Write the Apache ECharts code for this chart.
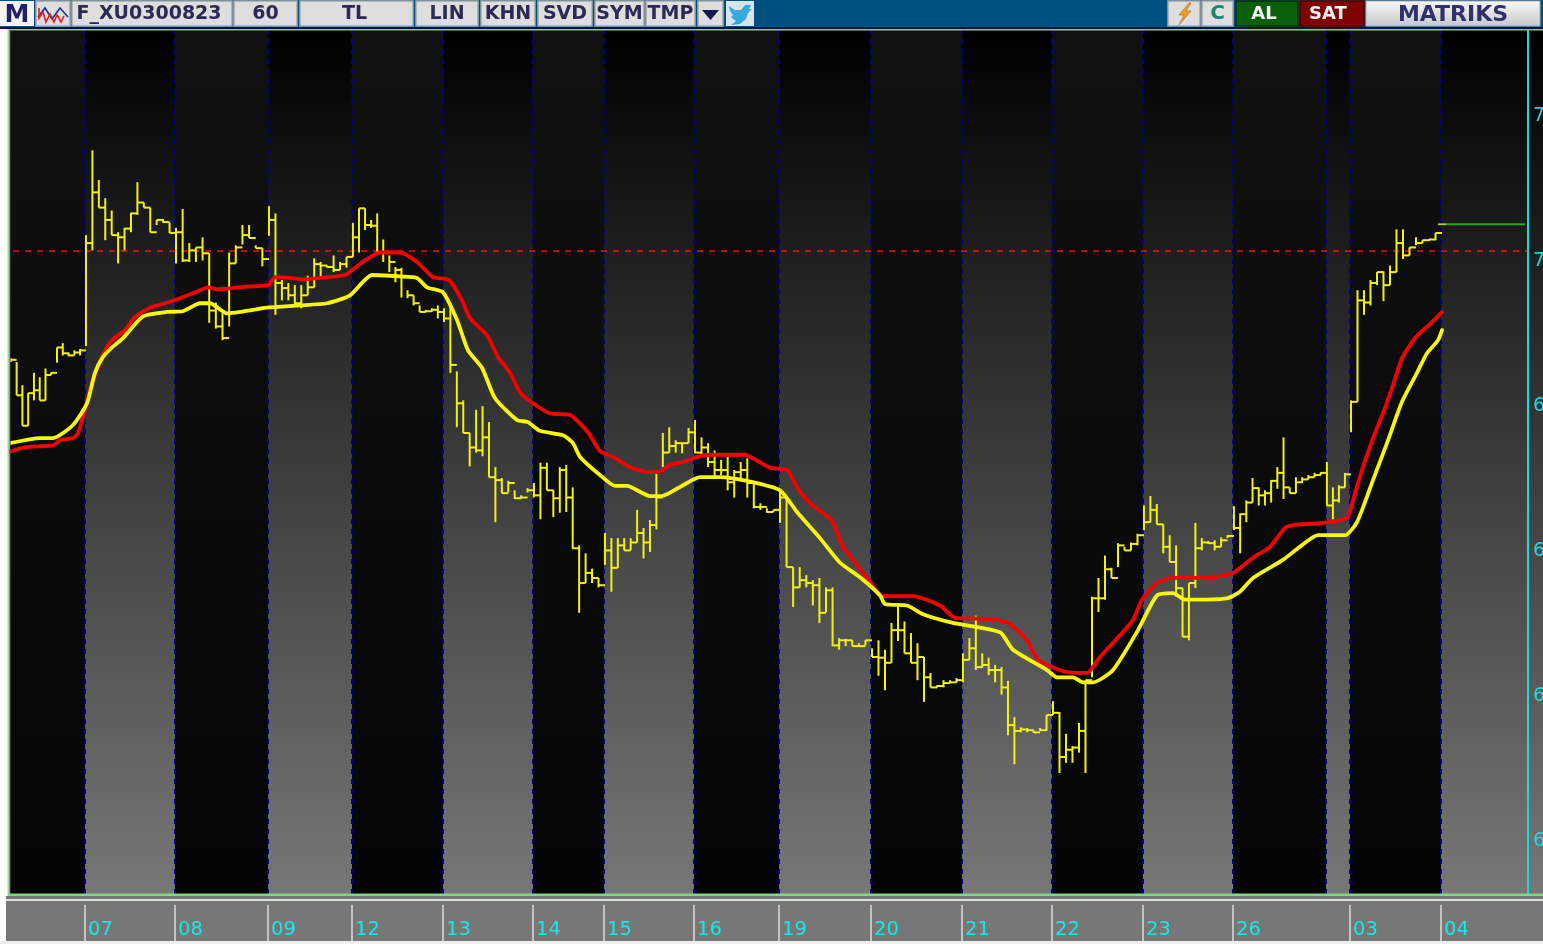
<!DOCTYPE html>
<html><head><meta charset="utf-8">
<style>html,body{margin:0;padding:0;background:#fff;overflow:hidden}#c{width:1543px;height:944px}</style>
<script src="https://cdn.jsdelivr.net/npm/echarts@6/dist/echarts.min.js"></script>
</head><body><div id="c"></div>
<script>
// Elapsed trading minutes at which each session starts (last entry = end of drawn bars, then end of the empty session)
const sessionStart = [0,750,1650,2580,3420,4330,5230,5940,6840,7690,8610,9520,10420,11330,12230,13160,13400,14310,15330];
const dayTickMinutes = [750,1650,2580,3420,4330,5230,5940,6840,7690,8610,9520,10420,11330,12230,13400,14310];
const dayTickLabels = ['07','08','09','12','13','14','15','16','19','20','21','22','23','26','03','04'];
const priceTicks = [7200,7000,6800,6600,6400,6200];
const priceTickLabels = ['7','7','6','6','6','6'];
const referencePrice = 7014;
const lastPrice = 7051;

// Hourly bars, one inner list per session
const high = [
[6866,6861,6829,6818,6846,6840,6852,6847,6881,6887,6874,6877,6879],
[7036,7153,7112,7087,7070,7040,7046,7067,7109,7081,7074,7057,7058,7053],
[7046,7072,7025,7019,7033,7011,6943,6929,7012,7022,7050,7050,7022,7018],
[7076,7066,6974,6970,6967,6967,6980,7004,6999,6994,7008,6999,7006],
[7053,7073,7073,7057,7066,7030,7008,6992,6991,6960,6953,6939,6933,6935,6939],
[6935,6942,6848,6808,6763,6795,6800,6778,6716,6701,6697,6684,6677,6687],
[6694,6722,6722,6684,6716,6719,6688,6608,6597,6576,6563],
[6625,6618,6618,6618,6618,6657,6632,6643,6708,6763,6771,6753,6749,6770],
[6781,6757,6749,6739,6726,6730,6712,6723,6728,6695,6666,6659,6657],
[6684,6674,6578,6578,6567,6560,6563,6550,6550,6480,6479,6477,6473,6477],
[6466,6477,6464,6501,6525,6503,6487,6473,6454,6432,6415,6422,6422,6425],
[6459,6480,6511,6459,6453,6443,6440,6421,6371,6357,6356,6353,6356,6374],
[6393,6378,6348,6331,6363,6422,6537,6563,6594,6577,6611,6606,6612,6624],
[6663,6676,6665,6637,6622,6608,6549,6556,6639,6618,6614,6615,6619,6622],
[6662,6652,6670,6701,6688,6684,6698,6716,6757,6688,6702,6702,6705,6708,6709],
[6723,6688,6691,6708],
[6808,6960,6960,6974,6985,6986,6994,7044,7044,7019,7033,7029,7030,7039]
];
const low = [
[6861,6815,6773,6773,6808,6808,6808,6843,6860,6870,6869,6870,6870],
[6883,7015,7074,7029,7036,6997,7015,7040,7064,7074,7040,7050,7053,7039],
[6997,6999,6999,6999,7001,6915,6907,6891,6910,6997,7023,7032,7018,6993],
[7035,6926,6946,6946,6939,6935,6953,6964,6978,6991,6985,6988,6991],
[7006,7012,7043,7046,7012,6999,6985,6971,6950,6949,6939,6930,6930,6930,6921],
[6916,6846,6771,6763,6717,6736,6731,6702,6640,6680,6681,6672,6673,6681],
[6674,6644,6684,6647,6653,6654,6603,6515,6556,6556,6550],
[6581,6544,6577,6601,6601,6612,6590,6599,6630,6716,6736,6736,6735,6749],
[6735,6730,6716,6701,6705,6684,6674,6701,6674,6659,6657,6653,6654],
[6639,6578,6523,6550,6550,6525,6501,6516,6469,6464,6469,6469,6469,6470],
[6454,6428,6408,6446,6476,6459,6446,6422,6392,6412,6412,6412,6418,6419],
[6419,6450,6436,6439,6429,6419,6402,6346,6306,6350,6350,6349,6352,6352],
[6374,6294,6308,6308,6322,6294,6426,6516,6533,6563,6578,6601,6601,6608],
[6629,6640,6637,6597,6585,6537,6482,6477,6549,6601,6610,6601,6606,6618],
[6629,6597,6640,6667,6663,6663,6667,6686,6672,6680,6680,6694,6699,6702,6705],
[6663,6644,6667,6688],
[6764,6806,6926,6939,6967,6945,6967,6985,7003,7008,7022,7025,7028,7029]
];
const close = [
[6864,6815,6773,6818,6822,6808,6843,6846,6881,6873,6870,6874,6877],
[7025,7095,7074,7057,7036,7033,7045,7066,7081,7074,7040,7057,7054,7039],
[7040,7001,7015,7019,7011,6932,6910,6894,6997,7019,7036,7032,7018,7003],
[7057,6970,6963,6953,6942,6953,6964,6996,6994,6992,6988,6996,7006],
[7033,7073,7050,7049,7012,7012,6999,6988,6978,6953,6942,6930,6931,6933,6930],
[6921,6857,6804,6763,6743,6739,6757,6702,6698,6680,6694,6673,6674,6684],
[6677,6715,6684,6673,6712,6674,6604,6556,6570,6563,6553],
[6601,6577,6608,6601,6612,6625,6612,6636,6674,6736,6745,6749,6749,6764],
[6736,6743,6723,6712,6712,6695,6709,6712,6694,6661,6661,6654,6657],
[6674,6578,6550,6560,6556,6553,6515,6546,6470,6477,6477,6469,6469,6477],
[6454,6453,6446,6491,6491,6459,6446,6454,6426,6412,6414,6418,6419,6422],
[6450,6466,6440,6443,6436,6436,6412,6360,6352,6354,6353,6350,6353,6374],
[6377,6316,6326,6329,6352,6422,6535,6535,6575,6563,6608,6601,6610,6622],
[6640,6657,6637,6606,6585,6549,6482,6556,6604,6612,6611,6606,6615,6621],
[6632,6651,6667,6687,6677,6680,6697,6708,6688,6680,6695,6699,6702,6705,6708],
[6663,6670,6688,6706],
[6806,6946,6943,6970,6985,6967,6985,7025,7008,7019,7025,7029,7030,7039]
];

// Moving averages: [elapsed minutes, price]
const redAverage = [[0,6737],[100,6742],[200,6744],[430,6746],[500,6753],[630,6756],[680,6763],[730,6785],[780,6813],[830,6836],[880,6854],[950,6877],[1020,6891],[1150,6905],[1250,6923],[1400,6936],[1550,6942],[1700,6949],[1850,6957],[1980,6964],[2080,6961],[2350,6965],[2580,6967],[2650,6978],[2780,6977],[2950,6975],[3100,6977],[3350,6981],[3450,6991],[3550,7001],[3700,7012],[3900,7012],[4070,6999],[4230,6978],[4390,6974],[4520,6946],[4600,6921],[4770,6898],[4880,6868],[5000,6846],[5100,6819],[5230,6804],[5400,6790],[5600,6788],[5780,6764],[5900,6738],[6030,6730],[6200,6716],[6370,6709],[6480,6709],[6600,6719],[6730,6723],[6870,6730],[7000,6733],[7350,6733],[7430,6728],[7600,6715],[7770,6712],[7870,6688],[8000,6666],[8220,6642],[8320,6608],[8430,6588],[8570,6563],[8730,6538],[9030,6538],[9300,6525],[9450,6508],[9700,6507],[9970,6502],[10170,6477],[10280,6450],[10570,6433],[10770,6432],[10900,6454],[11100,6484],[11230,6505],[11320,6533],[11470,6556],[11630,6563],[11970,6563],[12230,6570],[12430,6591],[12600,6606],[12750,6632],[12830,6636],[13130,6639],[13370,6646],[13430,6670],[13520,6712],[13650,6763],[13730,6790],[13830,6829],[13920,6866],[14050,6894],[14220,6916],[14320,6930]];
const yellowAverage = [[0,6749],[300,6756],[430,6756],[630,6774],[770,6804],[850,6846],[930,6868],[1020,6881],[1130,6894],[1330,6924],[1570,6930],[1730,6931],[1900,6942],[2000,6942],[2170,6928],[2300,6930],[2570,6936],[2900,6939],[3170,6942],[3400,6953],[3620,6981],[3900,6979],[4070,6977],[4170,6964],[4330,6957],[4470,6919],[4580,6877],[4720,6853],[4850,6811],[5070,6781],[5180,6778],[5300,6766],[5530,6760],[5630,6749],[5700,6730],[5900,6705],[6050,6690],[6170,6690],[6400,6676],[6520,6676],[6730,6691],[6900,6702],[7100,6702],[7370,6697],[7700,6684],[7870,6654],[8100,6618],[8300,6584],[8500,6564],[8700,6539],[8750,6527],[8970,6525],[9130,6513],[9430,6501],[9900,6488],[10030,6464],[10370,6436],[10470,6426],[10630,6426],[10730,6419],[10830,6419],[11030,6436],[11280,6491],[11470,6539],[11630,6542],[11750,6533],[12170,6535],[12300,6544],[12430,6563],[12730,6588],[12880,6604],[13080,6622],[13350,6622],[13470,6640],[13630,6698],[13770,6749],[13920,6806],[14070,6846],[14170,6873],[14280,6891],[14320,6905]];

// ---- build marks from the arrays ----
const yMin = 6127, yMax = 7319, xMax = 15180;
const barData = [];
high.forEach((list, s) => {
  const step = (sessionStart[s + 1] - sessionStart[s]) / list.length;
  list.forEach((h, j) => {
    const x = sessionStart[s] + (j + 0.15) * step;
    barData.push([x, h, low[s][j], close[s][j], x + step]);
  });
});
const bandData = sessionStart.slice(0, -1).map((v, i) => [v, sessionStart[i + 1], i % 2]);
const G = echarts.graphic;
const gradLight = new G.LinearGradient(0, 0, 0, 1, [{offset:0,color:'#000000'},{offset:1,color:'#777777'}]);
const gradDark = new G.LinearGradient(0, 0, 0, 1, [{offset:0,color:'#111111'},{offset:1,color:'#050505'}]);

// ---- window chrome ----
const NAVY = '#2a2a55';
function btn(x, w, label, o) {
  o = o || {};
  return [
    {type:'rect', shape:{x:x,y:1,width:w,height:25}, style:{fill:o.fill||'#dedede', stroke:o.stroke||'#a8a8a8', lineWidth:1.5}, z:100},
    label ? {type:'text', x:x+w/2+(o.dx||0), y:o.y||14, style:{text:label, fill:o.color||NAVY, font:'bold '+(o.size||19)+'px "DejaVu Sans"', align:'center', verticalAlign:'middle'}, z:101} : null
  ].filter(Boolean);
}
const chrome = [].concat(
  [{type:'rect', shape:{x:0,y:0,width:1543,height:27}, style:{fill:'#00507f'}, z:99},
   {type:'rect', shape:{x:0,y:27,width:1543,height:2}, style:{fill:'#101820'}, z:99},
   {type:'rect', shape:{x:0,y:1,width:34,height:25}, style:{fill:'#f4f4f4'}, z:100},
   {type:'text', x:17, y:15, style:{text:'M', fill:'#1f1f6a', font:'bold 25px "DejaVu Sans"', align:'center', verticalAlign:'middle'}, z:101}],
  btn(36,34,''),
  [{type:'polyline', shape:{points:[[38,17],[45,8],[52,19],[60,8],[68,17]]}, style:{stroke:'#20308a', fill:'none', lineWidth:1.6}, z:101},
   {type:'polyline', shape:{points:[[39,8],[39,18],[43,12],[46,22],[50,14],[54,22],[57,15],[61,22],[64,16]]}, style:{stroke:'#e02020', fill:'none', lineWidth:1.6}, z:101}],
  btn(72,160,'F_XU0300823',{dx:-3}), btn(234,63,'60'), btn(300,113,'TL',{dx:-2}), btn(416,62,'LIN'),
  btn(481,54,'KHN'), btn(538,54,'SVD'), btn(595,49,'SYM'), btn(646,49,'TMP'), btn(698,25,''),
  [{type:'polygon', shape:{points:[[702,10],[719,10],[710.5,20]]}, style:{fill:'#15154f'}, z:101},
   {type:'rect', shape:{x:726,y:1,width:28,height:25}, style:{fill:'#d8e4ea'}, z:100},
   {type:'polygon', shape:{points:[[729,6],[735,10],[741,10],[745,5],[751,5],[749,9],[752,9],[748,13],[746,19],[740,24],[731,25],[736,21],[731,17],[733,15],[730,11]]}, style:{fill:'#35a9e0'}, z:101}],
  btn(1168,32,''),
  [{type:'polygon', shape:{points:[[1189,3],[1179,15],[1184,15],[1179,25],[1191,11],[1186,11],[1191,3]]}, style:{fill:'#f0a020', stroke:'#a06a10', lineWidth:0.6}, z:101}],
  btn(1202,31,'C',{color:'#17886e',size:20}),
  btn(1236,62,'AL',{fill:'#0b5f0b',stroke:'#063006',color:'#f4f4f4',size:18,dx:-3}),
  btn(1300,64,'SAT',{fill:'#7d0303',stroke:'#500',color:'#f4f4f4',size:18,dx:-4}),
  [{type:'rect', shape:{x:1366,y:1,width:174,height:25}, style:{fill:new G.LinearGradient(0,0,0,1,[{offset:0,color:'#f8f8f8'},{offset:1,color:'#c8c8c8'}]), stroke:'#aaa', lineWidth:1}, z:100},
   {type:'text', x:1453, y:15, style:{text:'MATRIKS', fill:'#30306e', font:'bold 22px "DejaVu Sans"', align:'center', verticalAlign:'middle'}, z:101},
   // plot frame
   {type:'rect', shape:{x:8,y:28.5,width:1535,height:2}, style:{fill:'#6fdc6f'}, z:90},
   {type:'rect', shape:{x:7.5,y:28.5,width:2,height:867}, style:{fill:'#8fe08f'}, z:90},
   {type:'rect', shape:{x:9.5,y:30,width:1,height:864}, style:{fill:'#7a2a8a'}, z:90},
   {type:'rect', shape:{x:8,y:893.5,width:1535,height:2.5}, style:{fill:'#7bdc7b'}, z:90},
   // time-axis strip
   {type:'rect', shape:{x:6,y:896,width:1537,height:45}, style:{fill:'#777777'}, z:-1},
   {type:'rect', shape:{x:6,y:899,width:1537,height:2}, style:{fill:'#e0e0e0'}, z:-1},
   {type:'rect', shape:{x:0,y:941,width:1543,height:3}, style:{fill:'#eeeeee'}, z:-1}]
);

const chart = echarts.init(document.getElementById('c'), null, {renderer:'canvas'});
chart.setOption({
  animation:false,
  backgroundColor:'#ffffff',
  grid:{left:10, right:15, top:30, bottom:50, containLabel:false, outerBoundsMode:'none'},
  graphic:{elements:chrome},
  xAxis:{type:'value', min:0, max:xMax, offset:11, splitLine:{show:false}, z:20,
    axisLine:{show:false},
    axisTick:{show:true, length:36, customValues:dayTickMinutes, lineStyle:{color:'#dddddd', width:1.5}},
    axisLabel:{show:true, customValues:dayTickMinutes, margin:15, align:'left', padding:[0,0,0,3],
      color:'#18e8e8', fontFamily:'"DejaVu Sans"', fontSize:19.5,
      formatter:v => dayTickLabels[dayTickMinutes.indexOf(v)] || ''}},
  yAxis:{type:'value', position:'right', min:yMin, max:yMax, splitLine:{show:false}, z:20,
    axisLine:{show:true, onZero:false, lineStyle:{color:'#18dcdc', width:2}},
    axisTick:{show:false},
    axisLabel:{show:true, customValues:priceTicks, margin:5, color:'#18dcdc', fontFamily:'"DejaVu Sans"', fontSize:19,
      formatter:v => priceTickLabels[priceTicks.indexOf(v)] || ''}},
  series:[
    {type:'custom', name:'sessions', z:1, clip:false, silent:true, data:bandData,
     encode:{x:[0,1]},
     renderItem:(p, api) => {
       const a = api.coord([api.value(0), yMax]), b = api.coord([api.value(1), yMin]);
       return {type:'rect', shape:{x:a[0], y:a[1], width:b[0]-a[0], height:b[1]-a[1]},
               style:{fill: api.value(2) ? gradLight : gradDark}};
     },
     markLine:{silent:true, symbol:'none', label:{show:false}, z:2,
       lineStyle:{color:'#000090', type:[5,5], width:2},
       data:sessionStart.slice(1,-1).map(v => ({xAxis:v}))}},
    {type:'line', name:'reference', z:3, symbol:'none', silent:true,
     data:[[30,referencePrice],[xMax,referencePrice]],
     lineStyle:{color:'#ee1010', width:1.5, type:[6,6]}},
    {type:'custom', name:'bars', z:4, silent:true, data:barData,
     encode:{x:0, y:[1,2,3]},
     renderItem:(p, api) => {
       const x = api.value(0), t = api.coord([x, api.value(1)]), b = api.coord([x, api.value(2)]);
       const c = api.coord([x, api.value(3)]), n = api.coord([api.value(4), api.value(3)]);
       const st = {stroke:'#f2f210', lineWidth:2, fill:'none'};
       return {type:'group', children:[
         {type:'line', shape:{x1:t[0], y1:t[1], x2:b[0], y2:b[1]}, style:st},
         {type:'line', shape:{x1:c[0], y1:c[1], x2:n[0], y2:n[1]}, style:st}
       ]};
     }},
    {type:'line', name:'last', z:4, symbol:'none', silent:true,
     data:[[14360,lastPrice],[15150,lastPrice]], lineStyle:{color:'#20a820', width:1.8}},
    {type:'line', name:'lastTick', z:4, symbol:'none', silent:true,
     data:[[14280,lastPrice],[14360,lastPrice]], lineStyle:{color:'#c8c040', width:1.8}},
    {type:'line', name:'red average', z:5, symbol:'none', silent:true, data:redAverage, smooth:0.2,
     lineStyle:{color:'#f80000', width:3.8, join:'round', cap:'round'}},
    {type:'line', name:'yellow average', z:6, symbol:'none', silent:true, data:yellowAverage, smooth:0.2,
     lineStyle:{color:'#f8f800', width:3.8, join:'round', cap:'round'}}
  ]
});
</script></body></html>
